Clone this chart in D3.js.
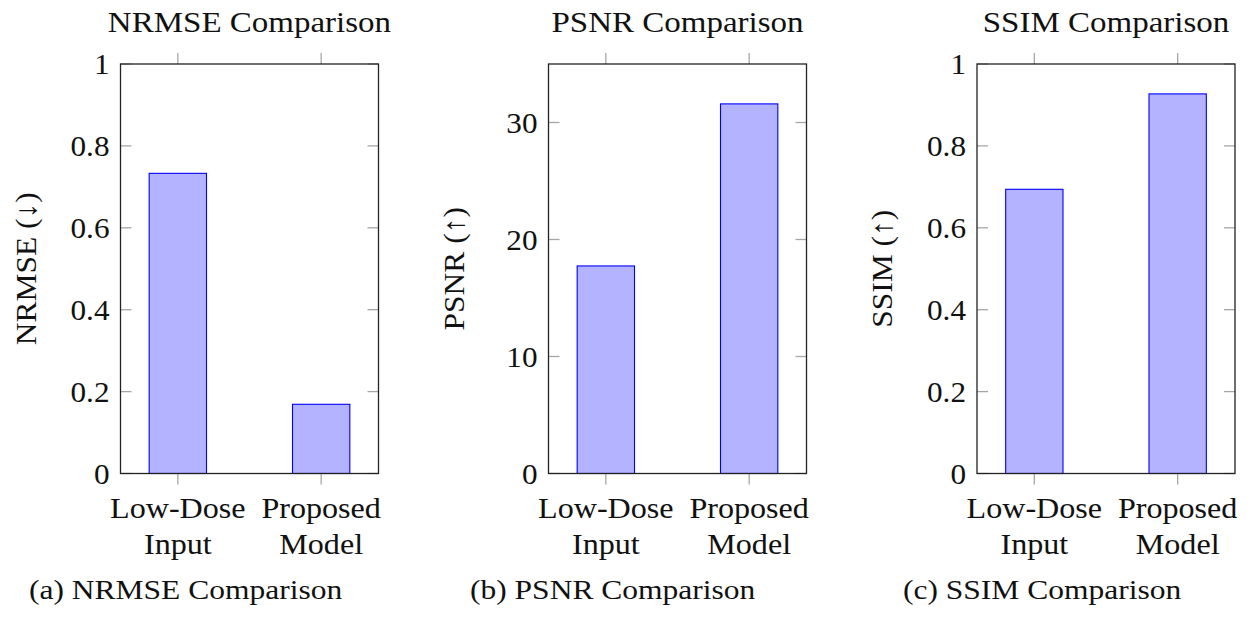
<!DOCTYPE html>
<html>
<head>
<meta charset="utf-8">
<script src="https://cdn.jsdelivr.net/npm/d3@7"></script>
<style>
  body { margin: 0; background: #fff; }
  text { font-family: "Liberation Serif", "DejaVu Serif", serif; fill: #111; }
</style>
</head>
<body>
<div id="chart"></div>
<script>
// Data
var categories = [["Low-Dose", "Input"], ["Proposed", "Model"]];
var nrmseValues = [0.733, 0.169];
var psnrValues = [17.74, 31.59];
var ssimValues = [0.694, 0.927];
var unitTicks = [0, 0.2, 0.4, 0.6, 0.8, 1];
var psnrTicks = [0, 10, 20, 30];
var titles = ["NRMSE Comparison", "PSNR Comparison", "SSIM Comparison"];
var yLabels = ["NRMSE (\u2193)", "PSNR (\u2191)", "SSIM (\u2191)"];
var captions = ["(a) NRMSE Comparison", "(b) PSNR Comparison", "(c) SSIM Comparison"];

var svgWidth = 1254;
var svgHeight = 623;

var svg = d3.select("#chart")
  .append("svg")
  .attr("width", svgWidth)
  .attr("height", svgHeight);

// panel layout (box in pixels)
var panels = [
  { left: 120.5, values: nrmseValues, ymax: 1, ticks: unitTicks, capX: 29 },
  { left: 548.5, values: psnrValues, ymax: 35, ticks: psnrTicks, capX: 470 },
  { left: 977, values: ssimValues, ymax: 1, ticks: unitTicks, capX: 903 }
];
var boxW = 258;
var plotTop = 64;
var plotBottom = 473.5;
var tickLen = 11;
var fontSize = 30;

// Computer Modern is wider than Times, so stretch text a little
function widen(sel, k) {
  sel.each(function () {
    var w = this.getComputedTextLength();
    d3.select(this).attr("textLength", w * (k || 1.09)).attr("lengthAdjust", "spacingAndGlyphs");
  });
}

panels.forEach(function (p, i) {
  var x = d3.scaleLinear().domain([0.6, 2.4]).range([p.left, p.left + boxW]);
  var y = d3.scaleLinear().domain([0, p.ymax]).range([plotBottom, plotTop]);
  var g = svg.append("g");

  // bars
  g.selectAll("rect.bar")
    .data(p.values)
    .enter()
    .append("rect")
    .attr("class", "bar")
    .attr("x", (d, j) => x(j + 1 - 0.2))
    .attr("width", (d, j) => x(j + 1 + 0.2) - x(j + 1 - 0.2))
    .attr("y", d => y(d))
    .attr("height", d => y(0) - y(d))
    .attr("fill", "#b3b3ff")
    .attr("stroke", "#0000ff")
    .attr("stroke-width", 1.1);

  // y ticks, inside on both sides
  var yTicks = g.append("g").attr("stroke", "#a6a6a6").attr("stroke-width", 1.3);
  p.ticks.forEach(function (t) {
    yTicks.append("line").attr("x1", x.range()[0]).attr("x2", x.range()[0] + tickLen)
      .attr("y1", y(t)).attr("y2", y(t));
    yTicks.append("line").attr("x1", x.range()[1] - tickLen).attr("x2", x.range()[1])
      .attr("y1", y(t)).attr("y2", y(t));
  });

  // x ticks, outside top and bottom
  var xTicks = g.append("g").attr("stroke", "#a6a6a6").attr("stroke-width", 1.3);
  [1, 2].forEach(function (c) {
    xTicks.append("line").attr("x1", x(c)).attr("x2", x(c)).attr("y1", plotTop - tickLen).attr("y2", plotTop);
    xTicks.append("line").attr("x1", x(c)).attr("x2", x(c)).attr("y1", plotBottom).attr("y2", plotBottom + tickLen);
  });

  // axis box
  g.append("rect")
    .attr("x", x.range()[0])
    .attr("y", plotTop)
    .attr("width", boxW)
    .attr("height", plotBottom - plotTop)
    .attr("fill", "none")
    .attr("stroke", "#222")
    .attr("stroke-width", 1.3);

  // y tick labels
  g.selectAll("text.ytick")
    .data(p.ticks)
    .enter()
    .append("text")
    .attr("class", "ytick")
    .attr("x", x.range()[0] - 11)
    .attr("y", d => y(d))
    .attr("dy", "0.34em")
    .attr("text-anchor", "end")
    .style("font-size", fontSize + "px")
    .text(d => d3.format("~g")(d))
    .call(widen, 1.04);

  // x tick labels (two lines)
  categories.forEach(function (lines, j) {
    lines.forEach(function (line, k) {
      g.append("text")
        .attr("x", x(j + 1))
        .attr("y", 518 + k * 36)
        .attr("text-anchor", "middle")
        .style("font-size", fontSize + "px")
        .text(line)
        .call(widen, 1.07);
    });
  });

  // title
  g.append("text")
    .attr("x", (x.range()[0] + x.range()[1]) / 2)
    .attr("y", 32)
    .attr("text-anchor", "middle")
    .style("font-size", fontSize + "px")
    .text(titles[i])
    .call(widen, 1.1);

  // y label
  g.append("text")
    .attr("transform", `translate(${x.range()[0] - 85}, ${(plotTop + plotBottom) / 2}) rotate(-90)`)
    .attr("text-anchor", "middle")
    .style("font-size", fontSize + "px")
    .text(yLabels[i])
    .call(widen, 1.05);

  // caption under the panel
  g.append("text")
    .attr("x", p.capX)
    .attr("y", 599)
    .style("font-size", "28px")
    .text(captions[i])
    .call(widen, 1.125);
});
</script>
</body>
</html>
